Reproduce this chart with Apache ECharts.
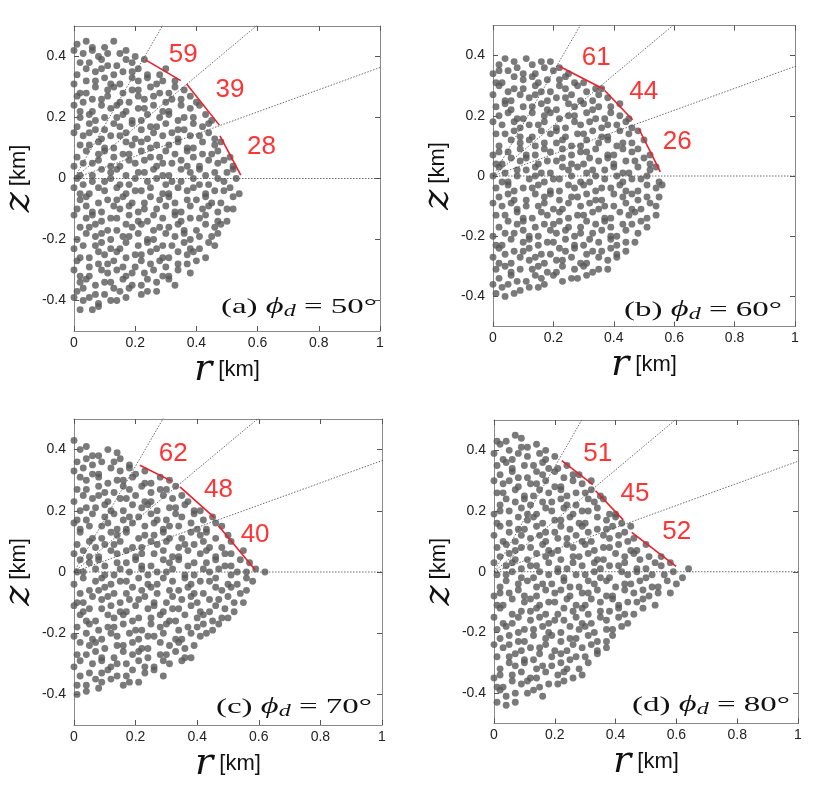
<!DOCTYPE html>
<html><head><meta charset="utf-8">
<script src="https://cdn.jsdelivr.net/npm/echarts@6/dist/echarts.min.js"></script>
<style>html,body{margin:0;padding:0;background:#fff}#c{width:830px;height:792px}</style>
</head><body><div id="c"></div>
<script>
// particle positions: flat list r,z,r,z,... in units of 0.01 km
const ptsA=[
1,44,4,45,6,43,10,43,13,45,
0,42,3,41,6,42,8,40,11,41,15,41,17,42,20,40,
2,38,5,38,9,39,11,37,14,37,17,39,19,38,23,39,
1,34,4,36,7,35,9,36,13,34,16,35,19,35,21,36,24,34,28,34,30,36,
0,31,4,32,7,32,10,33,12,31,15,31,19,33,21,32,24,33,27,31,29,32,33,32,
2,28,4,28,7,30,11,29,13,30,16,28,19,29,21,29,25,30,28,28,31,28,33,30,36,29,
1,27,3,25,6,26,9,26,11,27,15,25,18,25,21,27,23,26,26,27,30,25,32,26,35,26,38,27,40,25,
0,24,2,22,6,22,9,24,12,23,14,24,17,22,21,23,23,23,26,24,29,22,31,22,35,24,38,23,41,24,
2,20,5,21,7,19,10,20,14,20,16,21,19,19,22,19,24,21,28,20,31,21,34,19,36,20,39,20,43,21,45,19,
1,17,5,18,7,16,10,16,13,18,15,17,19,18,22,16,25,17,27,17,30,18,34,16,36,16,39,18,42,17,44,18,
0,15,3,14,5,15,9,13,12,14,15,14,17,15,20,13,24,13,26,15,29,14,32,15,34,13,38,14,41,14,44,15,46,13,
2,11,5,11,8,12,10,10,13,10,17,12,19,11,22,12,25,10,27,11,31,11,34,12,37,10,39,10,42,12,46,11,48,12,
1,7,4,9,8,8,10,9,13,7,16,8,18,8,22,9,25,7,28,7,30,9,33,8,37,9,39,7,42,8,45,8,47,9,51,7,
0,4,3,5,6,5,8,6,12,4,15,4,18,6,20,5,23,6,27,4,29,5,32,5,35,6,37,4,41,4,44,6,47,5,49,6,52,4,
2,1,6,1,9,3,12,2,14,3,17,1,21,2,23,2,26,3,29,1,31,1,35,3,38,2,41,3,43,1,46,2,50,2,52,3,
1,0,3,-2,6,-1,10,-1,12,0,15,-2,18,-2,20,0,24,-1,27,0,30,-2,32,-1,35,-1,39,0,41,-2,44,-2,47,0,49,-1,53,0,
0,-3,2,-5,5,-5,8,-3,10,-4,14,-3,17,-5,20,-4,22,-4,25,-3,29,-5,31,-5,34,-3,37,-4,39,-3,43,-5,46,-4,49,-4,51,-3,54,-5,
2,-7,4,-6,8,-8,11,-7,14,-7,16,-6,19,-8,23,-8,25,-6,28,-7,31,-6,33,-8,37,-7,40,-7,43,-6,45,-8,48,-8,52,-6,
1,-10,4,-9,6,-11,9,-11,13,-9,15,-10,18,-9,21,-11,23,-10,27,-10,30,-9,33,-11,35,-11,38,-9,42,-10,44,-9,47,-11,50,-10,52,-10,
0,-12,4,-13,6,-12,9,-14,12,-13,14,-13,18,-12,21,-14,24,-14,26,-12,29,-13,33,-12,35,-14,38,-13,41,-13,43,-12,47,-14,50,-14,
2,-16,5,-16,7,-15,11,-17,14,-17,17,-15,19,-16,22,-15,26,-17,28,-16,31,-16,34,-15,36,-17,40,-17,43,-15,46,-16,48,-15,
1,-20,4,-18,7,-19,9,-18,12,-20,16,-19,18,-19,21,-18,24,-20,26,-20,30,-18,33,-19,36,-18,38,-20,41,-19,45,-19,47,-18,
0,-23,3,-22,7,-22,9,-21,12,-23,15,-23,17,-21,21,-22,24,-21,27,-23,29,-22,32,-22,36,-21,38,-23,41,-23,44,-21,46,-22,
2,-26,5,-26,8,-24,10,-25,14,-24,17,-26,20,-25,22,-25,25,-24,29,-26,31,-26,34,-24,37,-25,39,-24,43,-26,
1,-27,5,-29,8,-28,11,-28,13,-27,16,-29,20,-29,22,-27,25,-28,28,-27,30,-29,34,-28,37,-28,40,-27,
0,-30,2,-32,5,-32,9,-30,11,-31,14,-30,17,-32,19,-31,23,-31,26,-30,29,-32,31,-32,34,-30,38,-31,
2,-34,4,-33,7,-35,10,-34,12,-34,16,-33,19,-35,22,-35,24,-33,27,-34,31,-33,33,-35,
1,-37,3,-36,7,-38,10,-38,13,-36,15,-37,18,-36,22,-38,24,-37,27,-37,
0,-39,3,-40,5,-39,8,-41,12,-40,14,-40,17,-39,
2,-43,6,-43,8,-42
];
const ptsB=[
2,37,4,39,7,38,11,39,13,37,16,38,19,38,
0,34,2,35,5,35,8,36,10,34,14,34,17,36,20,35,22,36,25,34,
1,31,3,31,7,33,10,32,13,33,15,31,18,32,22,32,24,33,27,31,30,31,
2,30,5,28,7,29,10,29,14,30,16,28,19,28,22,30,24,29,28,30,31,28,34,29,36,29,
0,27,4,25,6,25,9,27,12,26,14,27,18,25,21,26,24,26,26,27,29,25,33,25,35,27,38,26,
1,23,4,24,6,22,10,23,13,23,16,24,18,22,21,22,25,24,27,23,30,24,33,22,35,23,39,23,42,24,
2,20,5,21,8,19,10,19,13,21,17,20,19,21,22,19,25,20,27,20,31,21,34,19,37,19,39,21,42,20,45,19,
0,18,3,17,7,18,9,16,12,17,15,17,17,18,21,16,24,16,27,18,29,17,32,18,36,16,38,17,41,17,44,18,46,16,
1,14,4,14,7,15,9,13,13,13,16,15,19,14,21,15,24,13,28,14,30,14,33,15,36,13,38,13,42,15,45,14,48,15,
2,10,6,12,9,11,12,12,14,10,17,11,21,11,23,12,26,10,29,10,31,12,35,11,38,12,41,10,43,11,46,11,50,12,
0,7,2,8,5,8,9,9,11,7,14,7,17,9,19,8,23,9,26,7,29,8,31,8,34,9,38,7,40,7,43,9,46,8,48,9,52,7,
1,4,3,4,6,6,9,5,11,6,15,4,18,5,21,5,23,6,26,4,30,4,32,6,35,5,38,6,40,4,44,5,47,5,50,6,52,4,
2,3,4,1,8,2,11,2,14,3,16,1,19,1,23,3,25,2,28,3,31,1,33,2,37,2,40,3,43,1,45,1,48,3,52,2,54,3,
0,0,3,-2,5,-2,8,0,12,-1,14,0,17,-2,20,-1,22,-1,26,0,29,-2,32,-2,34,0,37,-1,41,0,43,-2,46,-1,49,-1,51,0,55,-2,
1,-4,5,-3,7,-5,10,-4,13,-4,15,-3,19,-5,22,-5,25,-3,27,-4,30,-3,34,-5,36,-4,39,-4,42,-3,44,-5,48,-5,51,-3,54,-4,56,-3,
2,-7,5,-6,7,-8,11,-8,14,-6,17,-7,19,-6,22,-8,26,-7,28,-7,31,-6,34,-8,36,-8,40,-6,43,-7,46,-6,48,-8,51,-7,55,-7,
0,-9,3,-10,6,-9,8,-11,11,-10,15,-10,17,-9,20,-11,23,-11,25,-9,29,-10,32,-9,35,-11,37,-10,40,-10,44,-9,46,-11,49,-11,52,-9,54,-10,
1,-13,4,-13,8,-12,10,-14,13,-14,16,-12,18,-13,22,-12,25,-14,28,-13,30,-13,33,-12,37,-14,39,-14,42,-12,45,-13,47,-12,51,-14,54,-13,
2,-17,5,-15,8,-16,10,-15,14,-17,17,-16,20,-16,22,-15,25,-17,29,-17,31,-15,34,-16,37,-15,39,-17,43,-16,46,-16,49,-15,51,-17,
0,-20,4,-19,7,-19,10,-18,12,-20,15,-20,19,-18,21,-19,24,-18,27,-20,29,-19,33,-19,36,-18,39,-20,41,-20,44,-18,48,-19,
1,-23,3,-23,6,-21,10,-22,12,-21,15,-23,18,-22,20,-22,24,-21,27,-23,30,-23,32,-21,35,-22,39,-21,41,-23,44,-22,47,-22,
2,-24,4,-26,7,-25,10,-25,12,-24,16,-26,19,-26,22,-24,24,-25,27,-24,31,-26,33,-25,36,-25,39,-24,41,-26,44,-25,
0,-27,2,-29,6,-29,9,-27,12,-28,14,-27,17,-29,21,-28,23,-28,26,-27,29,-29,31,-29,35,-27,38,-28,41,-27,
1,-31,4,-30,6,-32,9,-31,13,-31,15,-30,18,-32,21,-32,23,-30,27,-31,30,-30,33,-32,35,-31,38,-31,
2,-34,6,-33,8,-35,11,-35,14,-33,16,-34,20,-33,23,-35,26,-34,28,-34,31,-33,
0,-36,3,-37,5,-36,9,-38,12,-37,15,-37,17,-36,
1,-39,4,-40,7,-39
];
const ptsC=[
0,43,4,41,
2,40,6,38,8,38,11,40,14,39,
1,36,4,37,6,35,9,36,13,36,15,37,18,35,
0,33,3,34,6,32,8,32,12,34,15,33,18,34,20,32,23,33,
2,31,4,30,8,31,11,29,14,30,16,30,19,31,23,29,25,29,28,31,31,30,
1,27,4,27,8,28,10,26,13,26,16,28,18,27,22,28,25,26,28,27,30,27,33,28,
0,23,3,25,6,24,8,25,11,23,15,24,17,24,20,25,23,23,25,23,29,25,32,24,35,25,37,23,
2,20,4,21,7,21,10,22,12,20,16,20,19,22,22,21,24,22,27,20,31,21,33,21,36,22,39,20,41,20,
1,17,4,17,6,19,10,18,13,19,16,17,18,18,21,18,25,19,27,17,30,17,33,19,35,18,39,19,42,17,45,18,
0,16,2,14,5,15,9,15,11,16,14,14,17,14,19,16,23,15,26,16,29,14,31,15,34,15,38,16,40,14,43,14,46,16,48,15,
2,13,6,11,9,11,12,13,14,12,17,13,21,11,23,12,26,12,29,13,31,11,35,11,38,13,41,12,43,13,46,11,50,12,
1,9,5,10,7,8,10,9,13,9,15,10,19,8,22,8,25,10,27,9,30,10,34,8,36,9,39,9,42,10,44,8,48,8,51,10,
0,6,3,7,5,5,8,5,12,7,14,6,17,7,20,5,22,6,26,6,29,7,32,5,34,5,37,7,41,6,43,7,46,5,49,6,51,6,55,7,
2,4,5,3,8,4,10,2,14,3,17,3,20,4,22,2,25,2,29,4,31,3,34,4,37,2,39,3,43,3,46,4,49,2,51,2,54,4,57,3,
1,0,3,0,7,1,10,-1,13,-1,15,1,18,0,22,1,24,-1,27,0,30,0,32,1,36,-1,39,-1,42,1,44,0,47,1,51,-1,53,0,56,0,59,1,62,0,
0,-4,3,-2,7,-3,9,-2,12,-4,15,-3,17,-3,21,-2,24,-4,27,-4,29,-2,32,-3,36,-2,38,-4,41,-3,44,-3,46,-2,50,-4,53,-4,56,-2,58,-3,
2,-7,5,-6,8,-6,10,-5,13,-7,17,-7,19,-5,22,-6,25,-5,27,-7,31,-6,34,-6,37,-5,39,-7,42,-7,46,-5,48,-6,51,-5,54,-7,56,-6,
1,-10,3,-10,6,-8,9,-9,11,-8,15,-10,18,-9,21,-9,23,-8,26,-10,30,-10,32,-8,35,-9,38,-8,40,-10,44,-9,47,-9,50,-8,52,-10,55,-10,
0,-11,3,-13,5,-12,9,-12,12,-11,15,-13,17,-13,20,-11,24,-12,26,-11,29,-13,32,-12,34,-12,38,-11,41,-13,44,-13,46,-11,49,-12,52,-13,
2,-14,4,-16,7,-16,11,-14,13,-15,16,-14,19,-16,21,-15,25,-15,28,-14,31,-16,33,-16,36,-14,40,-15,42,-14,45,-16,48,-15,50,-15,
1,-18,5,-17,8,-19,11,-18,13,-18,16,-17,20,-19,22,-19,25,-17,28,-18,30,-17,34,-19,37,-18,40,-18,42,-17,45,-19,47,-17,
0,-21,4,-20,6,-22,9,-22,12,-20,14,-21,18,-20,21,-22,24,-21,26,-21,29,-20,33,-22,35,-22,38,-20,41,-21,43,-20,
2,-23,5,-24,7,-23,10,-25,14,-24,16,-24,19,-23,22,-25,24,-25,28,-23,31,-24,34,-23,36,-25,39,-24,
1,-27,4,-27,7,-26,9,-28,13,-28,16,-26,19,-27,21,-26,24,-28,28,-27,30,-27,33,-26,36,-28,38,-28,
0,-31,2,-29,6,-30,9,-29,12,-31,14,-30,17,-30,21,-29,23,-31,26,-31,29,-29,31,-30,35,-29,
2,-34,5,-33,9,-33,11,-32,14,-34,17,-34,19,-32,23,-33,26,-32,29,-34,
1,-37,4,-37,7,-35,9,-36,12,-35,16,-37,18,-36,21,-36,
1,-40,4,-39,8,-38
];
const ptsD=[
1,43,4,43,7,45,9,44,
2,42,5,40,9,41,11,41,14,42,17,40,
0,39,3,37,6,37,8,39,11,38,15,39,17,37,20,38,
1,35,4,36,6,34,10,35,13,35,16,36,18,34,21,34,24,35,
2,32,6,33,8,31,11,31,14,33,16,32,20,33,23,31,26,32,28,32,
0,30,3,29,5,30,8,28,12,29,14,29,17,30,20,28,22,28,26,30,29,29,32,30,
1,26,3,26,7,27,10,25,13,25,15,27,18,26,22,27,24,25,27,26,30,26,32,27,35,25,
2,22,4,24,7,23,10,24,12,22,16,23,19,23,22,24,24,22,27,22,31,24,33,23,36,24,
0,19,2,20,5,20,9,21,11,19,14,19,17,21,19,20,23,21,26,19,29,20,31,20,34,21,38,19,40,19,
1,16,5,16,8,18,11,17,13,18,16,16,20,17,22,17,25,18,28,16,30,16,34,18,37,17,40,18,42,16,
2,15,5,13,8,14,10,14,14,15,17,13,20,13,22,15,25,14,29,15,31,13,34,14,37,14,39,15,43,13,45,15,
0,12,3,10,7,10,9,12,12,11,15,12,17,10,21,11,24,11,27,12,29,10,32,10,36,12,38,11,41,12,44,10,46,11,
1,8,4,9,7,7,9,8,12,8,16,9,18,7,21,7,24,9,26,8,30,9,33,7,36,8,38,8,41,9,45,7,47,7,50,9,
2,5,5,6,7,4,11,4,14,6,17,5,19,6,22,4,26,5,28,5,31,6,34,4,36,4,40,6,43,5,46,6,48,4,51,5,55,5,
0,3,4,2,6,3,9,1,12,2,14,2,18,3,21,1,24,1,26,3,29,2,33,3,35,1,38,2,41,2,43,3,47,1,50,1,53,3,55,2,58,3,
1,-1,4,-1,6,0,9,-2,13,-2,15,0,18,-1,21,0,23,-2,27,-1,30,-1,33,0,35,-2,38,-2,42,0,44,-1,47,0,50,-2,52,-1,56,-1,59,0,62,-2,64,1,
2,-5,4,-3,8,-4,11,-3,14,-5,16,-4,19,-4,23,-3,25,-5,28,-5,31,-3,33,-4,37,-3,40,-5,43,-4,45,-4,48,-3,52,-5,54,-5,57,-3,60,-4,
0,-8,2,-7,5,-7,8,-6,10,-8,14,-8,17,-6,20,-7,22,-6,25,-8,29,-7,31,-7,34,-6,37,-8,39,-8,43,-6,46,-7,49,-6,51,-8,54,-7,58,-7,
1,-11,3,-11,6,-9,10,-10,12,-9,15,-11,18,-10,20,-10,24,-9,27,-11,30,-11,32,-9,35,-10,39,-9,41,-11,44,-10,47,-10,49,-9,53,-11,
2,-12,6,-14,9,-13,12,-13,14,-12,17,-14,21,-14,23,-12,26,-13,29,-12,31,-14,35,-13,38,-13,41,-12,43,-14,46,-14,49,-12,
0,-15,3,-17,6,-17,8,-15,12,-16,15,-15,18,-17,20,-16,23,-16,27,-15,29,-17,32,-17,35,-15,37,-16,41,-15,44,-17,
1,-19,4,-18,8,-20,10,-19,13,-19,16,-18,18,-20,22,-20,25,-18,28,-19,30,-18,33,-20,37,-19,39,-19,42,-18,
2,-22,5,-21,8,-23,10,-23,13,-21,17,-22,19,-21,22,-23,25,-22,27,-22,31,-21,34,-23,37,-23,39,-21,
0,-24,3,-25,5,-24,9,-26,12,-25,15,-25,17,-24,20,-26,24,-26,26,-24,29,-25,32,-24,34,-26,37,-25,
1,-28,5,-28,7,-27,10,-29,13,-29,15,-27,19,-28,22,-27,25,-29,27,-28,30,-28,34,-27,
2,-32,5,-30,7,-31,10,-30,14,-32,16,-31,19,-31,22,-30,24,-32,28,-32,31,-30,
0,-35,2,-34,6,-34,9,-33,12,-35,14,-35,17,-33,21,-34,23,-33,26,-35,29,-34,
1,-38,3,-38,6,-36,9,-37,11,-36,15,-38,18,-37,21,-37,23,-36,
2,-39,4,-41,7,-40,11,-40,13,-39,16,-41,
1,-43,4,-44,7,-43
];
// ray directions (degrees)
const rayAngles=[0,20,40,60];
// red boundary segments [r1,z1,r2,z2] in km
const segA=[[0.234,0.389,0.349,0.321],[0.368,0.31,0.475,0.175],[0.477,0.14,0.545,0.011]];
const segB=[[0.221,0.364,0.366,0.289],[0.37,0.284,0.462,0.187],[0.483,0.157,0.554,0.014]];
const segC=[[0.214,0.349,0.317,0.297],[0.344,0.278,0.456,0.178],[0.469,0.151,0.588,0.0075]];
const segD=[[0.223,0.366,0.325,0.287],[0.334,0.267,0.425,0.171],[0.453,0.13,0.599,0.018]];
// red numbers [r, z, text]
const labA=[[0.357,0.405,'59'],[0.51,0.29,'39'],[0.613,0.105,'28']];
const labB=[[0.342,0.394,'61'],[0.499,0.278,'44'],[0.61,0.113,'26']];
const labC=[[0.322,0.387,'62'],[0.469,0.27,'48'],[0.588,0.121,'40']];
const labD=[[0.341,0.388,'51'],[0.464,0.257,'45'],[0.601,0.13,'52']];
const panelTags=['(a)','(b)','(c)','(d)'];
const panelAngles=['50','60','70','80'];
const yTicks=[-0.4,-0.2,0,0.2,0.4];

const layout=[
 {left:74,top:26,width:306,height:305, tx:377, ty:307},
 {left:493,top:25.5,width:302,height:301, tx:782, ty:310},
 {left:74,top:419,width:308,height:306, tx:372, ty:707},
 {left:494,top:420,width:304,height:303.5, tx:790, ty:705}
];
const allPts=[ptsA,ptsB,ptsC,ptsD], allSeg=[segA,segB,segC,segD], allLab=[labA,labB,labC,labD];

const chart=echarts.init(document.getElementById('c'),null,{renderer:'canvas'});
const grid=[],xAxis=[],yAxis=[],series=[],graphic=[];
const frameCol='#8a8a8a', tickCol='#555';
const nameRich={i:{fontFamily:'DejaVu Serif',fontStyle:'italic',fontSize:38,color:'#111'},u:{fontFamily:'Liberation Sans',fontSize:22,color:'#111'}};
layout.forEach((L,k)=>{
  grid.push({left:L.left,top:L.top,width:L.width,height:L.height,containLabel:false,outerBoundsMode:'none'});
  const axLine={show:true,onZero:false,lineStyle:{color:frameCol,width:1}};
  xAxis.push({gridIndex:k,type:'value',min:0,max:1,interval:0.2,position:'bottom',axisLine:axLine,
    axisTick:{inside:true,length:5,lineStyle:{color:tickCol}},splitLine:{show:false},
    axisLabel:{margin:5,fontFamily:'Liberation Sans',fontSize:14,color:'#222'},
    name:'{i|r}{u| [km]}',nameLocation:'middle',nameGap:12,nameTextStyle:{rich:nameRich}});
  xAxis.push({gridIndex:k,type:'value',min:0,max:1,interval:0.2,position:'top',axisLine:axLine,
    axisTick:{inside:true,length:5,lineStyle:{color:tickCol}},axisLabel:{show:false},splitLine:{show:false}});
  yAxis.push({gridIndex:k,type:'value',min:-0.5,max:0.5,position:'left',axisLine:axLine,
    axisTick:{inside:true,length:5,customValues:yTicks,lineStyle:{color:tickCol}},splitLine:{show:false},
    axisLabel:{customValues:yTicks,margin:8,fontFamily:'Liberation Sans',fontSize:14,color:'#222'},
    name:'{i|z}{u| [km]}',nameLocation:'middle',nameRotate:90,nameGap:30,nameTextStyle:{rich:nameRich}});
  yAxis.push({gridIndex:k,type:'value',min:-0.5,max:0.5,position:'right',axisLine:axLine,
    axisTick:{inside:true,length:5,customValues:yTicks,lineStyle:{color:tickCol}},axisLabel:{show:false},splitLine:{show:false}});
  const P=allPts[k], data=[];
  for(let i=0;i<P.length;i+=2) data.push([P[i]/100,P[i+1]/100]);
  series.push({type:'scatter',xAxisIndex:2*k,yAxisIndex:2*k,data:data,symbolSize:6.9,silent:true,
    itemStyle:{color:'#595959'},z:2});
  rayAngles.forEach(a=>{
    const t=a*Math.PI/180;
    series.push({type:'line',xAxisIndex:2*k,yAxisIndex:2*k,data:[[0,0],[2*Math.cos(t),2*Math.sin(t)]],
      symbol:'none',clip:true,silent:true,lineStyle:{color:'#444',width:0.8,type:[1.5,1.5]},z:3});
  });
  allSeg[k].forEach(s=>{
    series.push({type:'line',xAxisIndex:2*k,yAxisIndex:2*k,data:[[s[0],s[1]],[s[2],s[3]]],
      symbol:'none',silent:true,lineStyle:{color:'#e8202a',width:1.6},z:4});
  });
  series.push({type:'scatter',xAxisIndex:2*k,yAxisIndex:2*k,data:allLab[k],symbolSize:0,silent:true,z:5,
    label:{show:true,position:'inside',formatter:p=>p.data[2],fontFamily:'Liberation Sans',fontSize:26,color:'#ff0000'}});
  graphic.push({type:'text',x:L.tx,y:L.ty,scaleX:1.5,scaleY:1,z:10,style:{
    text:'{n|'+panelTags[k]+' }{i|ϕ}{s|d}{n| = '+panelAngles[k]+'°}',
    align:'right',verticalAlign:'middle',
    rich:{n:{fontFamily:'Liberation Serif',fontSize:22,fill:'#111',color:'#111'},
          i:{fontFamily:'Liberation Serif',fontStyle:'italic',fontSize:23,fill:'#111',color:'#111'},
          s:{fontFamily:'Liberation Serif',fontStyle:'italic',fontSize:16,fill:'#111',color:'#111',verticalAlign:'bottom',padding:[10,0,0,0]}}}});
});
chart.setOption({animation:false,backgroundColor:'#fff',grid,xAxis,yAxis,series,graphic});
</script></body></html>
